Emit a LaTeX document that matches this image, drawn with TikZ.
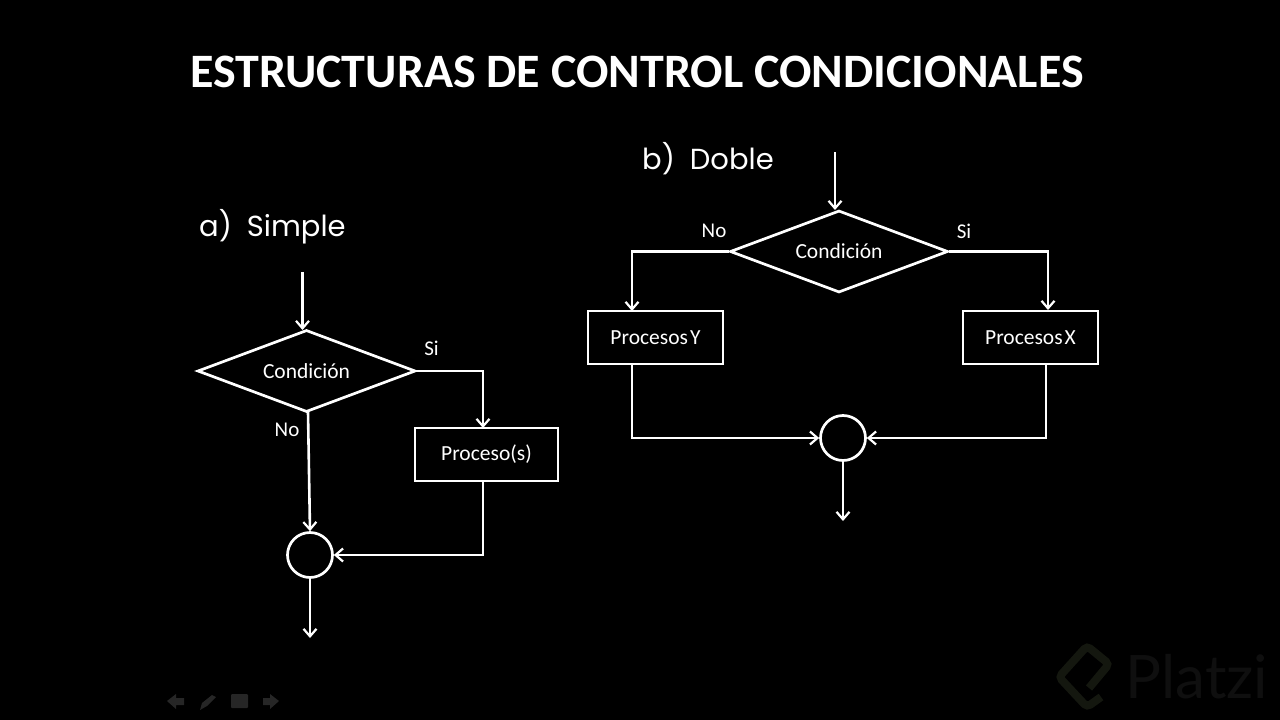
\documentclass[tikz,border=0pt]{standalone}
\usepackage{fontspec}
\setmainfont{Carlito}
\newfontfamily\handfont{Poppins}
\newfontfamily\markfont{Lato}
\usetikzlibrary{shapes.geometric,arrows.meta,calc}
\definecolor{iconcol}{HTML}{262626}
\definecolor{logocol}{HTML}{14170F}
\definecolor{markcol}{HTML}{0F0F0F}
\tikzset{
  x=1pt,y=-1pt,
  flow/.style={draw=white,line width=2.7pt,fill=black,text=white,font=\fontsize{21.5}{24}\selectfont,inner sep=0pt},
  decision/.style={flow,diamond,aspect=2.65,minimum width=218pt,minimum height=82pt},
  procbox/.style={flow,rectangle,minimum height=53pt},
  joinpt/.style={flow,circle,minimum size=45pt},
  conn/.style={draw=white,line width=2.6pt,line join=miter,-{Straight Barb[length=7.5pt,width=13pt,line width=2.2pt]}},
  lab/.style={text=white,font=\fontsize{21}{24}\selectfont,inner sep=0pt},
  head/.style={text=white,font=\handfont\fontsize{29}{36}\selectfont,inner sep=0pt,anchor=west},
  icon/.style={fill=iconcol,draw=none}
}
\begin{document}
\begin{tikzpicture}
\useasboundingbox (0,0) rectangle (1280,720);
\fill[black] (0,0) rectangle (1280,720);
% watermark
\draw[logocol,line width=8pt,rounded corners=4pt] (1089,688) -- (1109,664) -- (1087,646) -- (1059,677) -- (1087,707) -- (1101,697);
\node[text=markcol,font=\markfont\fontsize{60}{62}\selectfont,inner sep=0pt] (wm) at (1197,677) {Platzi};
% toolbar
\fill[icon] (167,701) -- (176,694) -- (176,698) -- (184,698) -- (184,705) -- (176,705) -- (176,709) -- cycle;
\fill[icon] (200,710) -- (202,703) -- (212,695) -- (216,697) -- (207,706) -- cycle;
\fill[icon,rounded corners=1pt] (231,694) rectangle (248,708);
\fill[icon] (279,701) -- (270,694) -- (270,698) -- (263,698) -- (263,705) -- (270,705) -- (270,709) -- cycle;
% title and headings
\node[text=white,font=\bfseries\fontsize{48}{52}\selectfont,inner sep=0pt] (title) at (637,72) {ESTRUCTURAS DE CONTROL CONDICIONALES};
\node[head] (hA) at (199,227) {a)\hspace{15pt}Simple};
\node[head] (hB) at (642,159) {b)\hspace{15pt}Doble};
% simple
\node[decision] (dA) at (306.5,371) {Condición};
\node[procbox,minimum width=143pt] (pA) at (486.5,454.5) {Proceso(s)};
\node[joinpt] (jA) at (310,555) {};
\coordinate (inA) at (302.5,272);
\coordinate (inAe) at (302.5,330);
\coordinate (outA) at (310,638);
\coordinate (cA) at (483,371);
\coordinate (cAe) at (483,428);
\coordinate (pAo) at (483,481);
\coordinate (cAb) at (483,555);
\coordinate (noA) at (308,412);
\draw[conn] (inA) -- (inAe);
\draw[conn] (dA.east) -- (cA) -- (cAe);
\draw[conn] (noA) -- (jA.north);
\draw[conn] (pAo) -- (cAb) -- (jA.east);
\draw[conn] (jA.south) -- (outA);
\node[lab] (siA) at (431.5,348) {Si};
\node[lab] (nA) at (287,430) {No};
% doble
\node[decision] (dB) at (839,251.5) {Condición};
\node[procbox,minimum width=135pt] (pY) at (655.5,337.5) {Procesos\hspace{2pt}Y};
\node[procbox,minimum width=135pt] (pX) at (1030.5,337.5) {Procesos\hspace{2pt}X};
\node[joinpt] (jB) at (843,438) {};
\coordinate (inB) at (835,152);
\coordinate (inBe) at (835,210);
\coordinate (cY) at (632,251.5);
\coordinate (cYe) at (632,311);
\coordinate (cX) at (1048,251.5);
\coordinate (cXe) at (1048,310);
\coordinate (pYo) at (632,364);
\coordinate (cYb) at (632,438);
\coordinate (pXo) at (1046,364);
\coordinate (cXb) at (1046,438);
\coordinate (outB) at (843,521);
\draw[conn] (inB) -- (inBe);
\draw[conn] (dB.west) -- (cY) -- (cYe);
\draw[conn] (dB.east) -- (cX) -- (cXe);
\draw[conn] (pYo) -- (cYb) -- (jB.west);
\draw[conn] (pXo) -- (cXb) -- (jB.east);
\draw[conn] (jB.south) -- (outB);
\node[lab] (nB) at (714,231) {No};
\node[lab] (siB) at (964,231) {Si};
\end{tikzpicture}
\end{document}
